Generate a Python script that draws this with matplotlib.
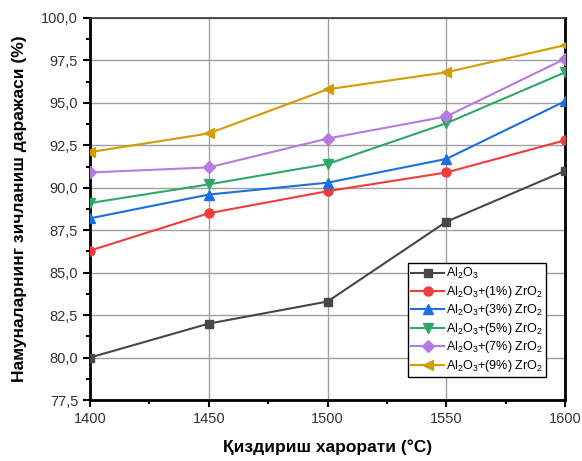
import matplotlib
matplotlib.use("Agg")
import matplotlib.pyplot as plt
from matplotlib.ticker import MultipleLocator, FuncFormatter

plt.rcParams['font.family'] = ['Liberation Sans', 'DejaVu Sans']
plt.rcParams['mathtext.fontset'] = 'custom'
plt.rcParams['mathtext.rm'] = 'Liberation Sans'

temps = [1400, 1450, 1500, 1550, 1600]
al2o3 = [80.0, 82.0, 83.3, 88.0, 91.0]
zr1 = [86.3, 88.5, 89.8, 90.9, 92.8]
zr3 = [88.2, 89.6, 90.3, 91.7, 95.1]
zr5 = [89.1, 90.2, 91.4, 93.8, 96.8]
zr7 = [90.9, 91.2, 92.9, 94.2, 97.6]
zr9 = [92.1, 93.2, 95.8, 96.8, 98.4]

labels = [r'Al$_2$O$_3$',
          r'Al$_2$O$_3$+(1%) ZrO$_2$',
          r'Al$_2$O$_3$+(3%) ZrO$_2$',
          r'Al$_2$O$_3$+(5%) ZrO$_2$',
          r'Al$_2$O$_3$+(7%) ZrO$_2$',
          r'Al$_2$O$_3$+(9%) ZrO$_2$']
series = [al2o3, zr1, zr3, zr5, zr7, zr9]
colors = ['#474747', '#f03c3c', '#1c6fe0', '#2da866', '#b57be0', '#d39c00']
markers = ['s', 'o', '^', 'v', 'D', '<']
msizes = [6, 6.5, 7, 7, 6, 7]

fig = plt.figure(figsize=(5.82, 4.61), dpi=100)
ax = fig.add_axes([0.1546, 0.1323, 0.8164, 0.8287])

for ys, c, m, ms, lab in zip(series, colors, markers, msizes, labels):
    ax.plot(temps, ys, color=c, marker=m, markersize=ms, linewidth=1.5, label=lab, zorder=3)

ax.set_xlim(1400, 1600)
ax.set_ylim(77.5, 100)
ax.xaxis.set_major_locator(MultipleLocator(50))
ax.xaxis.set_minor_locator(MultipleLocator(25))
ax.yaxis.set_major_locator(MultipleLocator(2.5))
ax.yaxis.set_minor_locator(MultipleLocator(1.25))
ax.yaxis.set_major_formatter(FuncFormatter(lambda v, p: f"{v:.1f}".replace('.', ',')))

ax.grid(True, which='major', color='#a0a0a0', linewidth=1.0, zorder=0)
ax.tick_params(axis='both', which='major', direction='out', length=5, width=1.5,
               labelsize=10.5, labelcolor='#333333', top=False, right=False)
ax.tick_params(axis='both', which='minor', direction='out', length=3, width=1.5,
               top=False, right=False)

for s in ['left', 'bottom', 'right']:
    ax.spines[s].set_linewidth(2.0)
    ax.spines[s].set_color('black')
ax.spines['top'].set_linewidth(1.2)
ax.spines['top'].set_color('#333333')

ax.set_xlabel('Қиздириш харорати (°C)', fontsize=12.5, fontweight='bold', labelpad=10)
ax.set_ylabel('Намуналарнинг зичланиш даражаси (%)', fontsize=12.5, fontweight='bold', labelpad=10)

leg = ax.legend(loc='lower right', bbox_to_anchor=(0.96, 0.06), fontsize=9,
                frameon=True, fancybox=False, edgecolor='black', framealpha=1,
                borderpad=0.25, labelspacing=0.2, handlelength=2.6, handletextpad=0.2,
                borderaxespad=0)
leg.get_frame().set_linewidth(1.0)

fig.savefig('out.png', dpi=100)
